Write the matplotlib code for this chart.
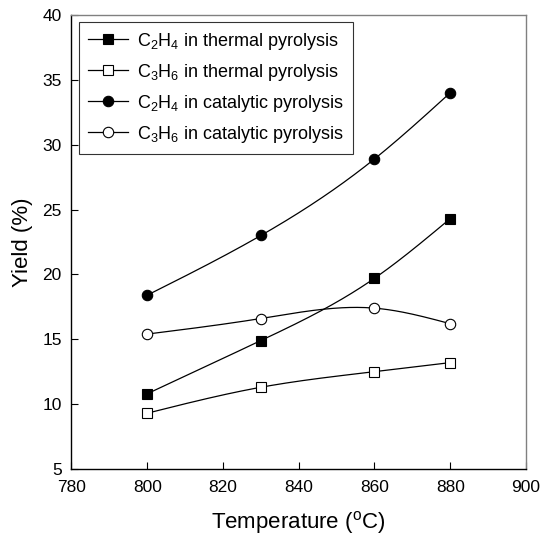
import numpy as np
import matplotlib
matplotlib.use('Agg')
import matplotlib.pyplot as plt

plt.rcParams['font.family'] = ['Liberation Sans', 'DejaVu Sans']
plt.rcParams['mathtext.fontset'] = 'custom'
plt.rcParams['mathtext.rm'] = 'Liberation Sans'
plt.rcParams['mathtext.it'] = 'Liberation Sans'

# data
temp = [800, 830, 860, 880]
c2h4_thermal = [10.8, 14.9, 19.7, 24.3]
c3h6_thermal = [9.3, 11.3, 12.5, 13.2]
c2h4_catalytic = [18.4, 23.0, 28.9, 34.0]
c3h6_catalytic = [15.4, 16.6, 17.4, 16.2]
labels = [r'C$_2$H$_4$ in thermal pyrolysis',
          r'C$_3$H$_6$ in thermal pyrolysis',
          r'C$_2$H$_4$ in catalytic pyrolysis',
          r'C$_3$H$_6$ in catalytic pyrolysis']


def spline(x, y, n=200):
    # natural cubic spline for the smooth connecting line
    x = np.asarray(x, float)
    y = np.asarray(y, float)
    k = len(x)
    h = np.diff(x)
    A = np.zeros((k, k))
    b = np.zeros(k)
    A[0, 0] = A[-1, -1] = 1
    for i in range(1, k - 1):
        A[i, i - 1] = h[i - 1]
        A[i, i] = 2 * (h[i - 1] + h[i])
        A[i, i + 1] = h[i]
        b[i] = 6 * ((y[i + 1] - y[i]) / h[i] - (y[i] - y[i - 1]) / h[i - 1])
    M = np.linalg.solve(A, b)
    xs = np.linspace(x[0], x[-1], n)
    idx = np.clip(np.searchsorted(x, xs) - 1, 0, k - 2)
    x0, x1 = x[idx], x[idx + 1]
    hh = x1 - x0
    ys = (M[idx] * (x1 - xs) ** 3 / (6 * hh) + M[idx + 1] * (xs - x0) ** 3 / (6 * hh)
          + (y[idx] / hh - M[idx] * hh / 6) * (x1 - xs)
          + (y[idx + 1] / hh - M[idx + 1] * hh / 6) * (xs - x0))
    return xs, ys


fig = plt.figure(figsize=(5.4, 5.35), dpi=100)
ax = fig.add_axes([0.1324, 0.1234, 0.8416, 0.8486])

series = [c2h4_thermal, c3h6_thermal, c2h4_catalytic, c3h6_catalytic]
markers = ['s', 's', 'o', 'o']
faces = ['black', 'white', 'black', 'white']
sizes = [6.5, 6.5, 7.5, 7.5]
for ys, m, fc, ms, lab in zip(series, markers, faces, sizes, labels):
    sx, sy = spline(temp, ys)
    ax.plot(sx, sy, color='black', lw=0.9, zorder=2)
    ax.plot(temp, ys, ls='none', marker=m, mfc=fc, mec='black', mew=0.8,
            ms=ms, zorder=3)
    ax.plot([], [], color='black', lw=0.9, marker=m, mfc=fc, mec='black',
            mew=0.8, ms=ms, label=lab)

ax.set_xlim(780, 900)
ax.set_ylim(5, 40)
ax.set_xticks(range(780, 901, 20))
ax.set_yticks(range(5, 41, 5))
ax.tick_params(direction='in', length=5, width=0.8, labelsize=12.5)
ax.tick_params(axis='x', pad=8)
ax.tick_params(axis='y', pad=7)
ax.tick_params(top=False, right=False)
for s in ['left', 'bottom']:
    ax.spines[s].set_color('black')
    ax.spines[s].set_linewidth(1.0)
for s in ['top', 'right']:
    ax.spines[s].set_color('#808080')
    ax.spines[s].set_linewidth(1.0)

ax.set_xlabel(r'Temperature ($^{\rm o}$C)', fontsize=16, labelpad=10)
ax.set_ylabel('Yield (%)', fontsize=16, labelpad=7)

leg = ax.legend(loc='upper left', bbox_to_anchor=(0.017, 0.985), fontsize=13,
                frameon=True, fancybox=False, edgecolor='black',
                handlelength=2.2, handletextpad=0.5, borderpad=0.5,
                labelspacing=0.55, borderaxespad=0)
leg.get_frame().set_linewidth(0.8)

fig.savefig('out.png', dpi=100)
